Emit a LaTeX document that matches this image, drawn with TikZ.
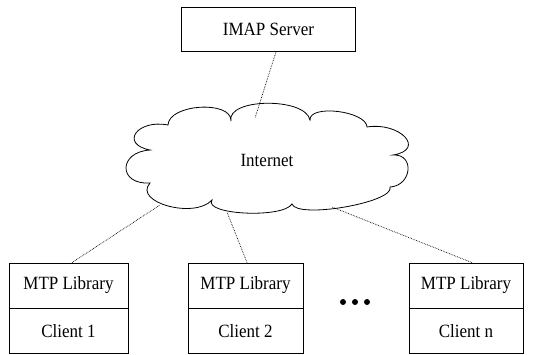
\documentclass[tikz,border=0pt]{standalone}
\usepackage{fontspec}
\setmainfont{Liberation Serif}
\newcommand{\tallt}[1]{\scalebox{1}[1.1]{#1}}
\begin{document}
\begin{tikzpicture}[x=1pt,y=-1pt,
  box/.style={draw,line width=0.8pt,inner sep=0pt,font=\fontsize{17}{20}\selectfont},
  conn/.style={densely dotted,line width=0.7pt},
  cloudline/.style={line width=0.8pt}]
\useasboundingbox (0,0) rectangle (539,354);
% IMAP server
\node[box,minimum width=174pt,minimum height=44pt] (imap) at (268.5,29.5) {\tallt{IMAP Server}};
% cloud
\draw[cloudline] (168,125)
  .. controls (168.7,104) and (231.7,100) .. (231,121)
  .. controls (226.3,98) and (305.3,97) .. (310,120)
  .. controls (309.3,104) and (366.3,111) .. (367,127)
  .. controls (400.3,121.7) and (426.3,149.7) .. (393,155)
  .. controls (415,153.7) and (412,185.7) .. (390,187)
  .. controls (395.3,202.3) and (297.3,219.3) .. (292,204)
  .. controls (282.7,218.7) and (202.7,214.7) .. (212,200)
  .. controls (194.7,219.3) and (132.7,202.3) .. (150,183)
  .. controls (118,185) and (118,152) .. (150,150)
  .. controls (119.3,144) and (137.3,119) .. (168,125) -- cycle;
\node[font=\fontsize{17}{20}\selectfont] (inet) at (267,160) {\tallt{Internet}};
\coordinate (ctop) at (255,118);
\coordinate (cb1) at (160,205);
\coordinate (cb2) at (227,212);
\coordinate (cb3) at (332,207);
% clients
\node[box,minimum width=119pt,minimum height=45pt] (lib1) at (68.5,285.5) {\tallt{MTP Library}};
\node[box,minimum width=119pt,minimum height=45pt,anchor=north] (cl1) at (lib1.south) {\tallt{Client 1}};
\node[box,minimum width=115pt,minimum height=45pt] (lib2) at (245.5,285.5) {\tallt{MTP Library}};
\node[box,minimum width=115pt,minimum height=45pt,anchor=north] (cl2) at (lib2.south) {\tallt{Client 2}};
\node[box,minimum width=114pt,minimum height=45pt] (lib3) at (466,285.5) {\tallt{MTP Library}};
\node[box,minimum width=114pt,minimum height=45pt,anchor=north] (cl3) at (lib3.south) {\tallt{Client n}};
% dots
\fill (343,302) circle (3pt) (355,302) circle (3pt) (367,302) circle (3pt);
% connectors
\draw[conn] ([xshift=7.5pt]imap.south) -- (ctop);
\draw[conn] ([xshift=3.5pt]lib1.north) -- (cb1);
\draw[conn] ([xshift=1.5pt]lib2.north) -- (cb2);
\draw[conn] ([xshift=6pt]lib3.north) -- (cb3);
\end{tikzpicture}
\end{document}
